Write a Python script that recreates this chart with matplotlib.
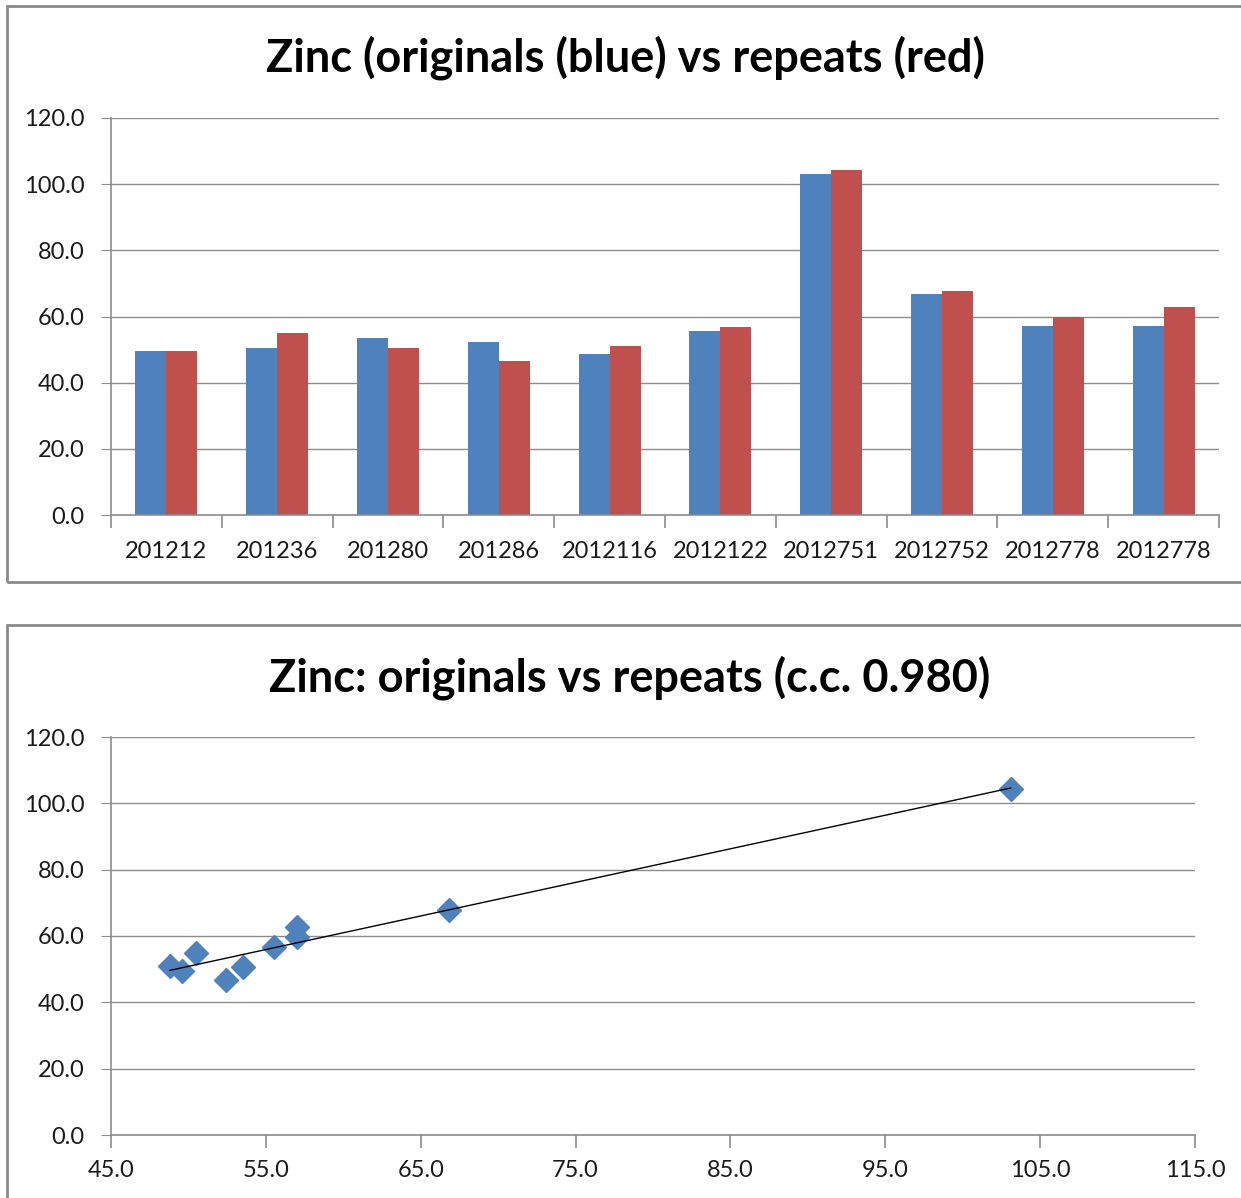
import numpy as np
import matplotlib
matplotlib.use('Agg')
import matplotlib.pyplot as plt
from matplotlib.patches import Rectangle

plt.rcParams['font.family'] = ['Lato', 'DejaVu Sans']

# sample ids (last one repeats in the source sheet)
samples = ['201212', '201236', '201280', '201286', '2012116',
           '2012122', '2012751', '2012752', '2012778', '2012778']
originals = [49.6, 50.5, 53.5, 52.4, 48.8, 55.5, 103.1, 66.8, 57.0, 57.0]
repeats = [49.5, 54.9, 50.6, 46.6, 51.0, 56.7, 104.3, 67.7, 59.8, 62.8]

y_ticks = [0, 20, 40, 60, 80, 100, 120]
x_ticks_scatter = [45, 55, 65, 75, 85, 95, 105, 115]

BLUE = '#4F81BD'
RED = '#C0504D'
GRID = '#8C8C8C'
W, H = 1241, 1198

fig = plt.figure(figsize=(W / 100, H / 100), dpi=100)


def fbox(l, t, r, b):
    return [l / W, 1 - b / H, (r - l) / W, (b - t) / H]


# panel frames
fig.patches.append(Rectangle((7 / W, 1 - 582 / H), 1240 / W, 576 / H, transform=fig.transFigure,
                             fill=False, edgecolor='#8A8A8A', linewidth=2))
fig.patches.append(Rectangle((7 / W, 1 - 1205 / H), 1240 / W, 580 / H, transform=fig.transFigure,
                             fill=False, edgecolor='#8A8A8A', linewidth=2))


def style_axes(ax):
    for s in ['top', 'right']:
        ax.spines[s].set_visible(False)
    ax.spines['left'].set_color(GRID)
    ax.spines['bottom'].set_color(GRID)
    ax.spines['left'].set_linewidth(1.2)
    ax.spines['bottom'].set_linewidth(1.2)
    ax.set_yticks(y_ticks)
    ax.set_yticklabels(['%.1f' % v for v in y_ticks])
    ax.set_ylim(0, 120)
    ax.yaxis.grid(True, color=GRID, linewidth=1.0)
    ax.set_axisbelow(True)
    ax.tick_params(axis='y', length=7, color=GRID, labelsize=17, pad=12, labelcolor='#1a1a1a')
    ax.tick_params(axis='x', direction='out', color=GRID, labelsize=17, labelcolor='#1a1a1a')


# --- bar chart
ax1 = fig.add_axes(fbox(111, 118, 1219, 515))
x = np.arange(len(samples))
bw = 0.28
ax1.bar(x - bw / 2, originals, bw, color=BLUE)
ax1.bar(x + bw / 2, repeats, bw, color=RED)
ax1.set_xlim(-0.5, len(samples) - 0.5)
style_axes(ax1)
ax1.set_xticks(x)
ax1.set_xticklabels(samples)
ax1.tick_params(axis='x', length=0, pad=19)
ax1.set_xticks(np.arange(len(samples) + 1) - 0.5, minor=True)
ax1.tick_params(axis='x', which='minor', length=9, color=GRID, width=1.2)
fig.text(625 / W, 1 - 58 / H, 'Zinc (originals (blue) vs repeats (red)', ha='center', va='center',
         fontsize=32.5, fontweight='bold')

# --- scatter
ax2 = fig.add_axes(fbox(111, 737, 1195, 1135))
ax2.plot(originals, repeats, 'D', color=BLUE, ms=12, zorder=3)
slope, icpt = np.polyfit(originals, repeats, 1)
xs = np.array([min(originals), max(originals)])
ax2.plot(xs, slope * xs + icpt, color='black', linewidth=1, zorder=4)
ax2.set_xlim(45, 115)
style_axes(ax2)
ax2.set_xticks(x_ticks_scatter)
ax2.set_xticklabels(['%.1f' % v for v in x_ticks_scatter])
ax2.tick_params(axis='x', length=9, width=1.2, pad=9)
cc = np.corrcoef(originals, repeats)[0, 1]
fig.text(630 / W, 1 - 678 / H, 'Zinc: originals vs repeats (c.c. %.3f)' % cc, ha='center', va='center',
         fontsize=32.5, fontweight='bold')

fig.savefig('out.png', dpi=100)
